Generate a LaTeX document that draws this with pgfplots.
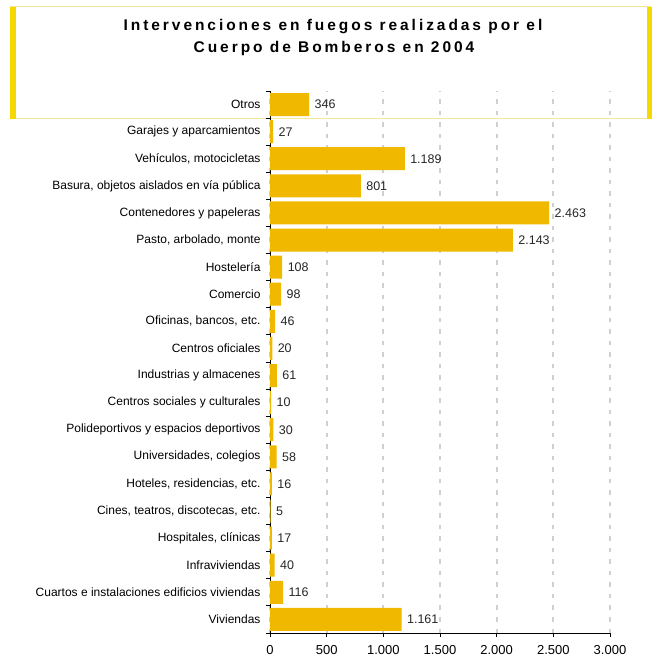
\documentclass[border=0pt]{standalone}
\usepackage{fontspec}
\setmainfont{Liberation Sans}
\usepackage{pgfplots}
\pgfplotsset{compat=1.18}
\definecolor{barc}{RGB}{240,185,0}
\definecolor{gridc}{RGB}{208,208,208}
\definecolor{titlebar}{RGB}{245,216,0}
\definecolor{titleline}{RGB}{244,232,150}

\begin{document}
\begin{tikzpicture}[x=1pt,y=1pt]
\path[use as bounding box] (0,0) rectangle (652,664);
% title box
\draw[titleline, line width=1pt] (10,545) rectangle (650,657);
\fill[titlebar] (10,545) rectangle (16,657);
\fill[titlebar] (647,545) rectangle (652,657);
\node[anchor=base, font=\fontsize{15.5}{18}\selectfont\bfseries\addfontfeatures{LetterSpace=19}] at (333,633) {Intervenciones en fuegos realizadas por el};
\node[anchor=base, font=\fontsize{15.5}{18}\selectfont\bfseries\addfontfeatures{LetterSpace=19}] at (334,611) {Cuerpo de Bomberos en 2004};

\begin{axis}[
  at={(270pt,31pt)}, anchor=south west,
  scale only axis, width=340pt, height=542pt,
  xbar, bar width=23pt,
  xmin=0, xmax=3000, ymin=-0.5, ymax=19.5,
  axis x line*=bottom, axis y line*=left,
  axis line style={-, black, line width=0.9pt},
  xtick={0,500,...,3000},
  xtick align=outside, ytick align=outside,
  major tick length=4pt,
  tick style={black, line width=0.8pt},
  xmajorgrids,
  grid style={draw=gridc, line width=2pt, dash pattern=on 4.5pt off 7pt},
  /pgf/number format/.cd, 1000 sep={.}, assume math mode=true, /pgfplots/.cd,
  xticklabel style={font=\fontsize{13}{15}\selectfont, yshift=-5pt},
  ytick={-0.5,0.5,...,19.5},
  yticklabels={},
  extra y ticks={0,1,...,19},
  extra y tick labels={Viviendas, Cuartos e instalaciones edificios viviendas, Infraviviendas, {Hospitales, clínicas}, {Cines, teatros, discotecas, etc.}, {Hoteles, residencias, etc.}, {Universidades, colegios}, Polideportivos y espacios deportivos, Centros sociales y culturales, Industrias y almacenes, Centros oficiales, {Oficinas, bancos, etc.}, Comercio, Hostelería, {Pasto, arbolado, monte}, Contenedores y papeleras, {Basura, objetos aislados en vía pública}, {Vehículos, motocicletas}, Garajes y aparcamientos, Otros},
  extra y tick style={major tick length=0pt, tick style={draw=none}},
  extra y tick style={yticklabel style={font=\fontsize{12}{14}\selectfont, xshift=-6pt}},
  nodes near coords,
  nodes near coords style={font=\fontsize{12.5}{14}\selectfont, anchor=west, xshift=2pt, text=black!85},
]
\addplot[fill=barc, draw=none] coordinates {
  (1161,0) (116,1) (40,2) (17,3) (5,4) (16,5) (58,6) (30,7) (10,8) (61,9)
  (20,10) (46,11) (98,12) (108,13) (2143,14) (2463,15) (801,16) (1189,17) (27,18) (346,19)
};
\end{axis}
\end{tikzpicture}
\end{document}
